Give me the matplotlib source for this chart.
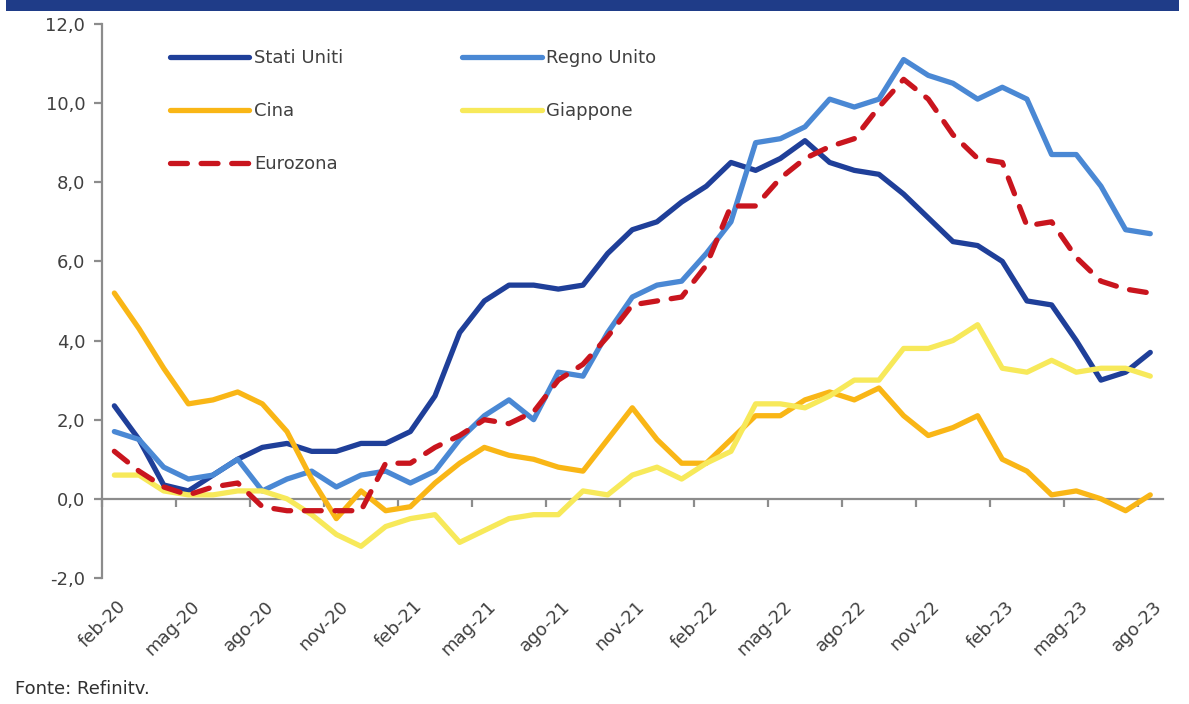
import numpy as np
import matplotlib

matplotlib.use("Agg")
import matplotlib.pyplot as plt
from matplotlib.patches import Rectangle
from matplotlib.transforms import blended_transform_factory

# inflazione mensile a/a, feb-20 .. ago-23 (43 mesi)
tick_labels = [
    "feb-20", "mag-20", "ago-20", "nov-20", "feb-21", "mag-21", "ago-21", "nov-21",
    "feb-22", "mag-22", "ago-22", "nov-22", "feb-23", "mag-23", "ago-23",
]
stati_uniti = [
    2.35, 1.5, 0.35, 0.2, 0.6, 1.0, 1.3, 1.4, 1.2, 1.2, 1.4, 1.4, 1.7, 2.6, 4.2,
    5.0, 5.4, 5.4, 5.3, 5.4, 6.2, 6.8, 7.0, 7.5, 7.9, 8.5, 8.3, 8.6, 9.05, 8.5,
    8.3, 8.2, 7.7, 7.1, 6.5, 6.4, 6.0, 5.0, 4.9, 4.0, 3.0, 3.2, 3.7,
]
regno_unito = [
    1.7, 1.5, 0.8, 0.5, 0.6, 1.0, 0.2, 0.5, 0.7, 0.3, 0.6, 0.7, 0.4, 0.7, 1.5,
    2.1, 2.5, 2.0, 3.2, 3.1, 4.2, 5.1, 5.4, 5.5, 6.2, 7.0, 9.0, 9.1, 9.4, 10.1,
    9.9, 10.1, 11.1, 10.7, 10.5, 10.1, 10.4, 10.1, 8.7, 8.7, 7.9, 6.8, 6.7,
]
cina = [
    5.2, 4.3, 3.3, 2.4, 2.5, 2.7, 2.4, 1.7, 0.5, -0.5, 0.2, -0.3, -0.2, 0.4, 0.9,
    1.3, 1.1, 1.0, 0.8, 0.7, 1.5, 2.3, 1.5, 0.9, 0.9, 1.5, 2.1, 2.1, 2.5, 2.7,
    2.5, 2.8, 2.1, 1.6, 1.8, 2.1, 1.0, 0.7, 0.1, 0.2, 0.0, -0.3, 0.1,
]
giappone = [
    0.6, 0.6, 0.2, 0.1, 0.1, 0.2, 0.2, 0.0, -0.4, -0.9, -1.2, -0.7, -0.5, -0.4, -1.1,
    -0.8, -0.5, -0.4, -0.4, 0.2, 0.1, 0.6, 0.8, 0.5, 0.9, 1.2, 2.4, 2.4, 2.3, 2.6,
    3.0, 3.0, 3.8, 3.8, 4.0, 4.4, 3.3, 3.2, 3.5, 3.2, 3.3, 3.3, 3.1,
]
eurozona = [
    1.2, 0.7, 0.3, 0.1, 0.3, 0.4, -0.2, -0.3, -0.3, -0.3, -0.3, 0.9, 0.9, 1.3, 1.6,
    2.0, 1.9, 2.2, 3.0, 3.4, 4.1, 4.9, 5.0, 5.1, 5.9, 7.4, 7.4, 8.1, 8.6, 8.9,
    9.1, 9.9, 10.6, 10.1, 9.2, 8.6, 8.5, 6.9, 7.0, 6.1, 5.5, 5.3, 5.2,
]

plt.rcParams["font.family"] = ["DejaVu Sans"]
TEXT = "#404040"
AXIS = "#8c8c8c"

fig = plt.figure(figsize=(11.89, 7.04), dpi=100)
ax = fig.add_axes([0.0858, 0.179, 0.892, 0.787])

x = np.arange(len(stati_uniti))
lw = 3.8
l_us, = ax.plot(x, stati_uniti, color="#1f3f99", lw=lw, solid_joinstyle="round",
                solid_capstyle="round", label="Stati Uniti")
l_uk, = ax.plot(x, regno_unito, color="#4a88d4", lw=lw, solid_joinstyle="round",
                solid_capstyle="round", label="Regno Unito")
l_cn, = ax.plot(x, cina, color="#f9b616", lw=lw, solid_joinstyle="round",
                solid_capstyle="round", label="Cina")
l_jp, = ax.plot(x, giappone, color="#f7e95a", lw=lw, solid_joinstyle="round",
                solid_capstyle="round", label="Giappone")
l_ez, = ax.plot(x, eurozona, color="#c9151e", lw=lw, dashes=(3.2, 2.6),
                dash_capstyle="round", dash_joinstyle="round", label="Eurozona")

ax.set_xlim(-0.5, len(x) - 0.5)
ax.set_ylim(-2, 12)

# assi
for side in ("top", "right"):
    ax.spines[side].set_visible(False)
ax.spines["left"].set_color(AXIS)
ax.spines["left"].set_linewidth(1.6)
ax.spines["bottom"].set_position(("data", 0))
ax.spines["bottom"].set_color(AXIS)
ax.spines["bottom"].set_linewidth(1.6)
ax.spines["bottom"].set_zorder(1)

ax.set_yticks(np.arange(-2, 13, 2))
ax.set_yticklabels([f"{v:.1f}".replace(".", ",") for v in np.arange(-2, 13, 2)])
ax.tick_params(axis="y", direction="out", length=6, width=1.6, color=AXIS,
               labelsize=13, labelcolor=TEXT, pad=6)

step = 3
ax.set_xticks(np.arange(-0.5, len(x), step))
ax.set_xticklabels([])
ax.tick_params(axis="x", direction="out", length=6, width=1.6, color=AXIS)

trans = blended_transform_factory(ax.transData, ax.transAxes)
for i, lab in zip(range(0, len(x), step), tick_labels):
    ax.text(i + 0.1, -0.035, lab, rotation=45, ha="right", va="top",
            rotation_mode="anchor", transform=trans, fontsize=13, color=TEXT)

leg = ax.legend(
    handles=[l_us, l_cn, l_ez, l_uk, l_jp],
    ncol=2, loc="upper left", bbox_to_anchor=(0.064, 0.955),
    frameon=False, fontsize=13, handlelength=4.4, handletextpad=0.25,
    labelspacing=1.95, columnspacing=6.6, borderpad=0, borderaxespad=0,
)
for t in leg.get_texts():
    t.set_color(TEXT)

# fascia del titolo in alto (tagliata)
fig.patches.append(Rectangle((0.005, 0.985), 0.987, 0.02, transform=fig.transFigure,
                             facecolor="#1f3c88", edgecolor="none"))

fig.text(0.013, 0.022, "Fonte: Refinitv.", fontsize=13, color="#303030",
         ha="left", va="center")

fig.savefig("out.png", dpi=100)
